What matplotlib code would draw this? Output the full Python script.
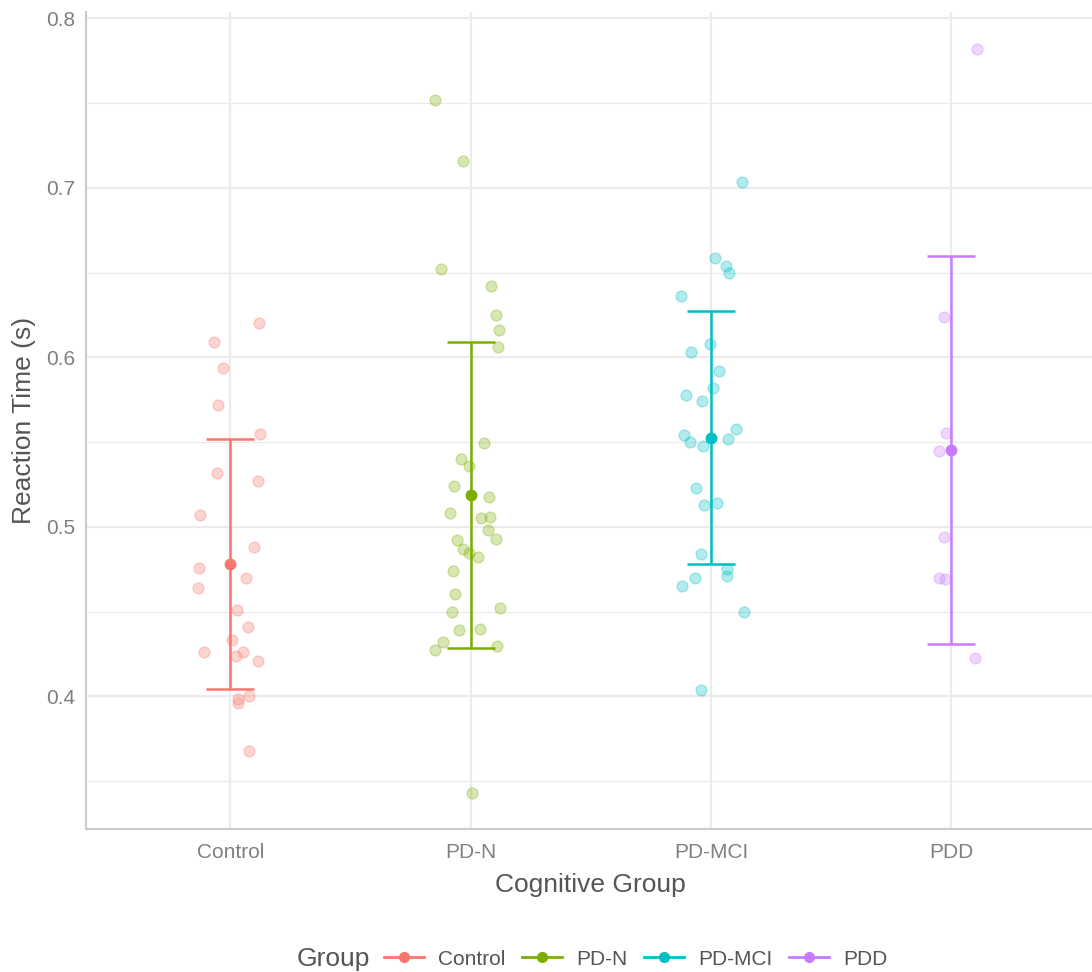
import matplotlib
matplotlib.use("Agg")
import matplotlib.pyplot as plt
from matplotlib.lines import Line2D
import numpy as np

plt.rcParams['font.family'] = ['Liberation Sans', 'DejaVu Sans']

groups = ['Control', 'PD-N', 'PD-MCI', 'PDD']
colors = ['#F8766D', '#7CAE00', '#00BFC4', '#C77CFF']

# reaction times per subject (s)
rt_control = [0.620, 0.609, 0.5935, 0.572, 0.555, 0.532, 0.527, 0.5068, 0.488,
              0.4755, 0.470, 0.464, 0.4509, 0.4407, 0.433, 0.426, 0.426, 0.4236,
              0.4208, 0.400, 0.3982, 0.3959, 0.368]
rt_pdn = [0.7518, 0.7156, 0.6521, 0.6422, 0.6248, 0.6161, 0.6061, 0.5493, 0.540,
          0.536, 0.5242, 0.5176, 0.508, 0.5052, 0.506, 0.4979, 0.4926, 0.4922,
          0.4871, 0.4847, 0.4822, 0.4739, 0.4604, 0.4519, 0.4496, 0.4389, 0.4399,
          0.4322, 0.4275, 0.4299, 0.3428]
rt_pdmci = [0.7032, 0.6584, 0.654, 0.6499, 0.636, 0.608, 0.6031, 0.5919, 0.5817,
            0.578, 0.5742, 0.5577, 0.554, 0.5516, 0.550, 0.5478, 0.5231, 0.513,
            0.514, 0.484, 0.4749, 0.471, 0.470, 0.4651, 0.4497, 0.4035]
rt_pdd = [0.7821, 0.6238, 0.5555, 0.5449, 0.4938, 0.470, 0.469, 0.4226]

# horizontal jitter used for the raw points (category units)
jit_control = [0.118, -0.068, -0.029, -0.050, 0.122, -0.057, 0.114, -0.126, 0.100,
               -0.129, 0.067, -0.132, 0.029, 0.076, 0.008, -0.109, 0.054, 0.026,
               0.114, 0.078, 0.033, 0.033, 0.078]
jit_pdn = [-0.147, -0.031, -0.121, 0.083, 0.105, 0.119, 0.114, 0.057, -0.040,
           -0.006, -0.067, 0.076, -0.086, 0.043, 0.082, 0.071, 0.106, -0.058,
           -0.033, -0.008, 0.030, -0.075, -0.064, 0.122, -0.078, -0.050, 0.039,
           -0.116, -0.147, 0.109, 0.007]
jit_pdmci = [0.130, 0.017, 0.064, 0.074, -0.125, -0.003, -0.084, 0.032, 0.007,
             -0.103, -0.036, 0.105, -0.111, 0.072, -0.087, -0.032, -0.064, -0.028,
             0.024, -0.043, 0.068, 0.068, -0.067, -0.119, 0.137, -0.043]
jit_pdd = [0.108, -0.032, -0.022, -0.050, -0.029, -0.052, -0.026, 0.099]

# group summaries: mean +/- 1 SD
group_mean = [0.478, 0.5186, 0.5526, 0.5452]
group_sd = [0.0735, 0.0903, 0.0745, 0.1144]

rt_all = [rt_control, rt_pdn, rt_pdmci, rt_pdd]
jit_all = [jit_control, jit_pdn, jit_pdmci, jit_pdd]

fig = plt.figure(figsize=(10.92, 9.72), dpi=100)
ax = fig.add_axes([86 / 1092, 143 / 972, 1009.5 / 1092, 817 / 972])

for i, (vals, jit, col) in enumerate(zip(rt_all, jit_all, colors)):
    xpos = i + 1 + np.array(jit)
    ax.scatter(xpos, vals, s=62, color=col, alpha=0.3, linewidths=1.0,
               edgecolors=col, zorder=3)
    ax.errorbar(i + 1, group_mean[i], yerr=group_sd[i], color=col, lw=1.8,
                capsize=17, capthick=1.8, zorder=4)
    ax.plot(i + 1, group_mean[i], 'o', color=col, ms=7.5, zorder=5)

ax.set_xlim(0.4, 4.6)
ax.set_ylim(0.3217, 0.8037)
ax.set_xticks(range(1, 5))
ax.set_xticklabels(groups)
ax.set_yticks([0.4, 0.5, 0.6, 0.7, 0.8])
ax.set_yticklabels(['0.4', '0.5', '0.6', '0.7', '0.8'])
ax.set_yticks([0.35, 0.45, 0.55, 0.65, 0.75], minor=True)

ax.grid(True, which='major', color='#ebebeb', lw=1.6, zorder=0)
ax.grid(True, which='minor', axis='y', color='#ebebeb', lw=0.9, zorder=0)
ax.set_axisbelow(True)

for side in ['top', 'right']:
    ax.spines[side].set_visible(False)
for side in ['left', 'bottom']:
    ax.spines[side].set_color('#cccccc')
    ax.spines[side].set_linewidth(1.5)

ax.tick_params(axis='both', which='both', length=0, labelsize=15, labelcolor='#808080')
ax.tick_params(axis='y', pad=8)
ax.tick_params(axis='x', pad=10)

ax.set_xlabel('Cognitive Group', fontsize=19, color='#555555', labelpad=8)
ax.set_ylabel('Reaction Time (s)', fontsize=19, color='#555555', labelpad=7)

handles = [Line2D([0], [0], color=c, lw=2, marker='o', ms=7) for c in colors]
fig.legend(handles, groups, loc='center', bbox_to_anchor=(636 / 1092, 13 / 972),
           ncol=4, frameon=False, fontsize=15, labelcolor='#555555',
           handlelength=1.9, handletextpad=0.7, columnspacing=0.8)
fig.text(297 / 1092, 13 / 972, 'Group', fontsize=19, color='#555555',
         ha='left', va='center')

fig.savefig('out.png', dpi=100)
